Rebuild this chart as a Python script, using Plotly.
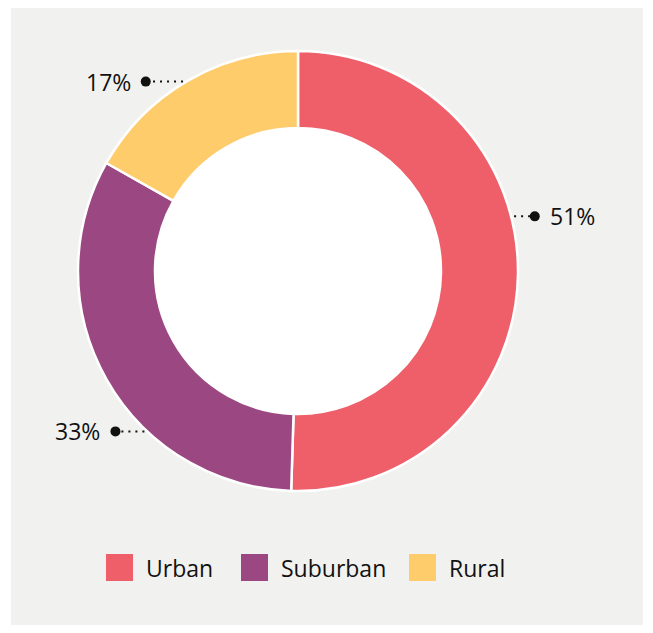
import math
import plotly.graph_objects as go

# ---- data ----
categories = ["Urban", "Suburban", "Rural"]
values = [51, 33, 17]
label_texts = ["51%", "33%", "17%"]

# ---- styling / layout constants ----
W, H = 653, 633
colors = ["#EE5F6A", "#9A4782", "#FECC6A"]
panel = dict(x0=11, y0=8, x1=643, y1=625, color="#F1F1EF")
CX, CY, R = 298, 271, 220          # pie centre and outer radius (px)
HOLE = 0.65
LABEL_ANGLES = [77.0, 228.7, 321.2]  # label anchor angle (deg clockwise from top)
LABEL_R = 243
DOT_R = 5
TEXT_GAP = 13
FONT = "Open Sans"
FS = 23
LEG_Y = 567.5
LEG_SQ = 27
LEG_X = [106, 241, 409]
LEG_GAP = 11

fig = go.Figure()

fig.add_trace(go.Pie(
    labels=categories,
    values=values,
    sort=False,
    direction="clockwise",
    rotation=0,
    hole=HOLE,
    marker=dict(colors=colors, line=dict(color="white", width=2.5)),
    textinfo="none",
    hoverinfo="label+value",
    showlegend=False,
    domain=dict(x=[(CX - R) / W, (CX + R) / W],
                y=[1 - (CY + R) / H, 1 - (CY - R) / H]),
))

# invisible pixel axes covering the whole figure for overlays
fig.add_trace(go.Scatter(x=[0, W], y=[0, H], mode="markers",
                         marker=dict(opacity=0), hoverinfo="skip", showlegend=False))

hole_r = R * HOLE + 2
shapes = [dict(type="rect", xref="x", yref="y", layer="below",
               x0=panel["x0"], y0=panel["y0"], x1=panel["x1"], y1=panel["y1"],
               fillcolor=panel["color"], line=dict(width=0)),
          dict(type="circle", xref="x", yref="y", layer="below",
               x0=CX - hole_r, x1=CX + hole_r, y0=CY - hole_r, y1=CY + hole_r,
               fillcolor="white", line=dict(width=0))]
annotations = []

for txt, ang in zip(label_texts, LABEL_ANGLES):
    a = math.radians(ang)
    dx = LABEL_R * math.sin(a)
    dy = -LABEL_R * math.cos(a)
    px, py = CX + dx, CY + dy
    side = 1 if dx > 0 else -1
    edge_x = CX + side * math.sqrt(max(R * R - dy * dy, 0))
    shapes.append(dict(type="line", xref="x", yref="y",
                       x0=edge_x + side * 3, y0=py, x1=px, y1=py,
                       line=dict(color="#111111", width=2, dash="2px,5px")))
    shapes.append(dict(type="circle", xref="x", yref="y",
                       x0=px - DOT_R, x1=px + DOT_R, y0=py - DOT_R, y1=py + DOT_R,
                       fillcolor="#111111", line=dict(width=0)))
    annotations.append(dict(xref="x", yref="y", x=px + side * TEXT_GAP, y=py,
                            text=txt, showarrow=False,
                            xanchor="left" if side > 0 else "right", yanchor="middle",
                            font=dict(family=FONT, size=FS, color="#111111")))

for cat, col, lx in zip(categories, colors, LEG_X):
    shapes.append(dict(type="rect", xref="x", yref="y",
                       x0=lx, x1=lx + LEG_SQ, y0=LEG_Y - LEG_SQ / 2, y1=LEG_Y + LEG_SQ / 2,
                       fillcolor=col, line=dict(width=0)))
    annotations.append(dict(xref="x", yref="y", x=lx + LEG_SQ + LEG_GAP, y=LEG_Y,
                            text=cat, showarrow=False, xanchor="left", yanchor="middle",
                            font=dict(family=FONT, size=FS, color="#111111")))

fig.update_layout(
    width=W, height=H,
    margin=dict(l=0, r=0, t=0, b=0),
    paper_bgcolor="white", plot_bgcolor="rgba(0,0,0,0)",
    xaxis=dict(range=[0, W], visible=False, fixedrange=True),
    yaxis=dict(range=[H, 0], visible=False, fixedrange=True),
    shapes=shapes, annotations=annotations,
    showlegend=False,
)

fig.write_html("out.html",
               config={"displayModeBar": False},
               post_script="document.body.style.margin='0';document.body.style.overflow='hidden';")
